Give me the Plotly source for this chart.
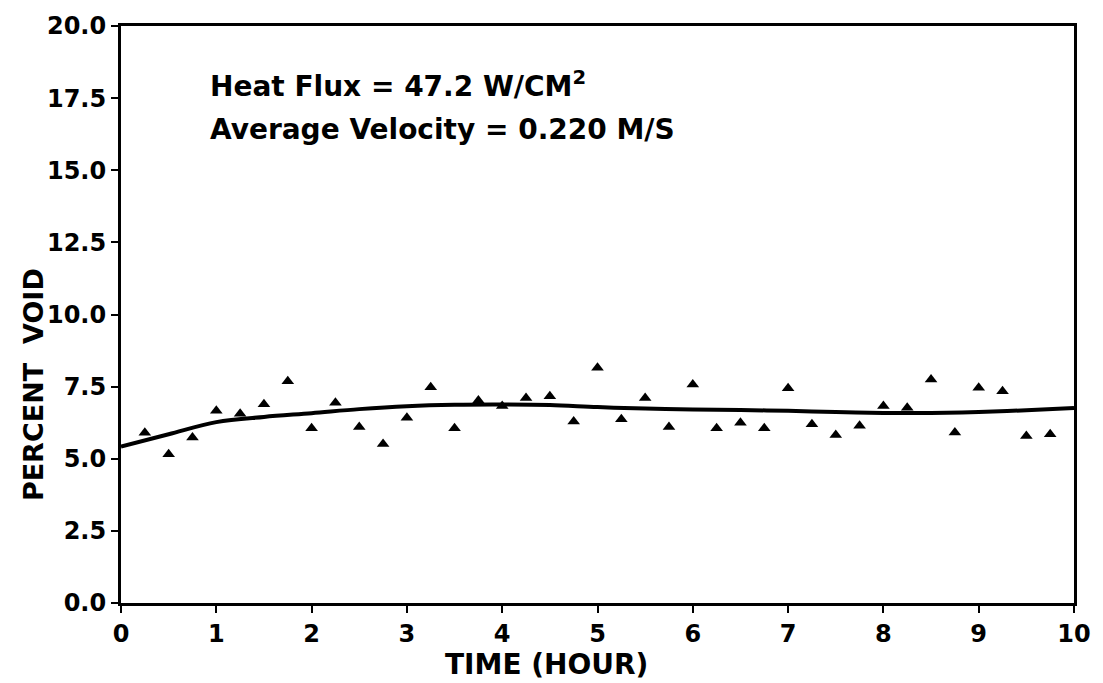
import plotly.graph_objects as go

# Measured data points (time in hours, percent void)
time_pts = [0.25, 0.5, 0.75, 1.0, 1.25, 1.5, 1.75, 2.0, 2.25, 2.5, 2.75, 3.0, 3.25, 3.5,
            3.75, 4.0, 4.25, 4.5, 4.75, 5.0, 5.25, 5.5, 5.75, 6.0, 6.25, 6.5, 6.75, 7.0,
            7.25, 7.5, 7.75, 8.0, 8.25, 8.5, 8.75, 9.0, 9.25, 9.5, 9.75]
void_pts = [5.9, 5.16, 5.74, 6.66, 6.56, 6.89, 7.69, 6.06, 6.94, 6.1, 5.51, 6.42, 7.48, 6.06,
            7.02, 6.83, 7.11, 7.17, 6.29, 8.15, 6.37, 7.11, 6.1, 7.57, 6.06, 6.25, 6.06, 7.44,
            6.2, 5.82, 6.14, 6.83, 6.77, 7.75, 5.91, 7.46, 7.34, 5.79, 5.85]

# Fitted curve
curve_t = [0, 0.5, 1, 1.5, 2, 2.5, 3, 3.5, 4, 4.5, 5, 5.5, 6, 6.5, 7, 7.5, 8, 8.5, 9, 9.5, 10]
curve_v = [5.42, 5.85, 6.27, 6.45, 6.58, 6.72, 6.82, 6.87, 6.88, 6.86, 6.79, 6.74, 6.71,
           6.69, 6.66, 6.62, 6.59, 6.59, 6.62, 6.68, 6.76]

x_ticks = list(range(0, 11))
y_ticks = [0, 2.5, 5, 7.5, 10, 12.5, 15, 17.5, 20]

FONT = "DejaVu Sans"

fig = go.Figure()
fig.add_trace(go.Scatter(
    x=curve_t, y=curve_v, mode="lines",
    line=dict(color="black", width=4, shape="spline"),
    showlegend=False, hoverinfo="skip"))
fig.add_trace(go.Scatter(
    x=time_pts, y=void_pts, mode="markers",
    marker=dict(symbol="triangle-up", size=11, color="black"),
    showlegend=False))

axis_common = dict(
    showgrid=False, zeroline=False, showline=True, linecolor="black", linewidth=3,
    mirror=True, ticks="outside", tickcolor="black", tickwidth=2, ticklen=7,
    tickfont=dict(family=FONT, size=24, color="black", weight="bold"),
)

fig.update_xaxes(range=[0, 10], tickvals=x_ticks, ticktext=[str(t) for t in x_ticks],
                 **axis_common)
fig.update_yaxes(range=[0, 20], tickvals=y_ticks, ticktext=[f"{v:.1f}" for v in y_ticks],
                 **axis_common)

ann_font = dict(family=FONT, size=28, color="black", weight="bold")
fig.add_annotation(x=0.915, y=17.97, xref="x", yref="y", xanchor="left", yanchor="middle",
                   text="Heat Flux = 47.2 W/CM<sup>2</sup>", showarrow=False, font=ann_font)
fig.add_annotation(x=0.915, y=16.41, xref="x", yref="y", xanchor="left", yanchor="middle",
                   text="Average Velocity = 0.220 M/S", showarrow=False, font=ann_font)
fig.add_annotation(x=4.46, y=-0.107, xref="x", yref="paper", xanchor="center", yanchor="middle",
                   text="TIME (HOUR)", showarrow=False,
                   font=dict(family=FONT, size=28, color="black", weight="bold"))
fig.add_annotation(x=-0.0915, y=0.379, xref="paper", yref="paper", xanchor="center",
                   yanchor="middle", text="PERCENT  VOID", textangle=-90, showarrow=False,
                   font=dict(family=FONT, size=27, color="black", weight="bold"))

fig.update_layout(
    width=1103, height=683,
    margin=dict(l=121, r=20, t=23, b=80),
    paper_bgcolor="white", plot_bgcolor="white",
)

fig.write_html("out.html")
